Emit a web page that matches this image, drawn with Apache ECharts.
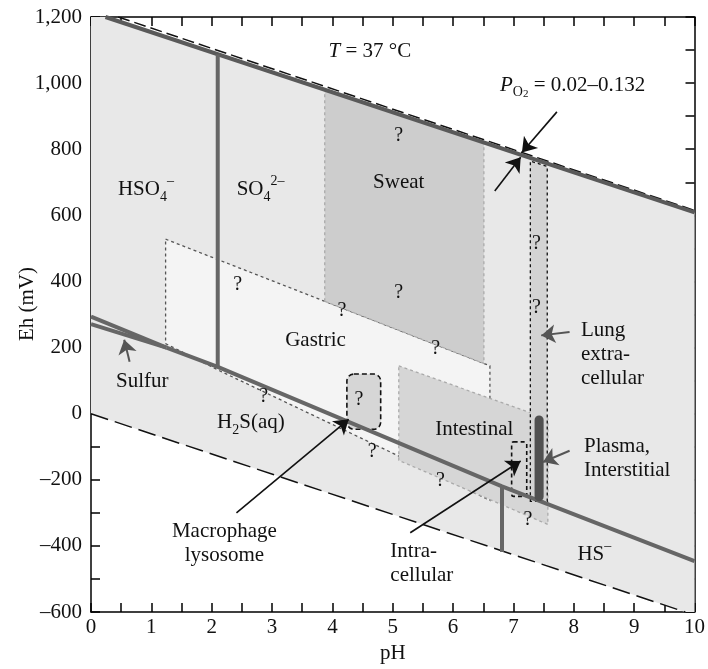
<!DOCTYPE html>
<html>
<head>
<meta charset="utf-8">
<script src="https://cdn.jsdelivr.net/npm/echarts@6/dist/echarts.min.js"></script>
<style>
  html, body { margin: 0; padding: 0; background: #fff; }
  #chart { width: 708px; height: 669px; }
</style>
</head>
<body>
<div id="chart"></div>
<script>
// all points are [pH, Eh (mV)]
const o2Solid = [[0.24, 1200], [10, 609]];
const o2Dash = [[0.45, 1200], [10, 615]];
const h2Dash = [[0, 0], [9.85, -600]];
const waterField = [[0, 0], [0, 1200], [0.24, 1200], [10, 609], [10, -600], [9.85, -600]];

const sulfurUpper = [[0, 294], [1.25, 200]];
const sulfurLower = [[0, 271], [1.25, 200]];
const sulfideLine = [[1.25, 200], [2.1, 142], [6.81, -220], [10, -446]];
const hso4Line = [[2.1, 1087], [2.1, 142]];
const h2sLine = [[6.81, -220], [6.81, -418]];

const gastric = [[1.236, 528], [6.61, 145], [6.61, -262], [5.1, -128], [4.11, -42], [2.13, 130], [1.236, 212]];
const sweat = [[3.873, 340], [3.873, 980], [6.51, 820], [6.51, 152]];
const intestinal = [[5.1, 145], [7.57, -16], [7.57, -335], [5.1, -141]];
const lung = [[7.28, -265], [7.28, 764], [7.56, 748], [7.56, -265]];

// boxes: [pHmin, pHmax, Ehmin, Ehmax]
const macrophageBox = [4.24, 4.8, -47, 120];
const intracellBox = [6.97, 7.22, -250, -85];
const plasmaBar = [7.35, 7.5, -265, -5];

// arrows: [tail, tip]
const blackArrows = [
  [[7.72, 913], [7.14, 790]],
  [[6.69, 674], [7.12, 776]],
  [[2.41, -300], [4.27, -17]],
  [[5.29, -360], [7.12, -143]]
];
const grayArrows = [
  [[0.64, 157], [0.55, 224]],
  [[7.93, 247], [7.46, 237]],
  [[7.93, -112], [7.49, -146]]
];

const labels = [
  [4.62, 1096, 'center', '{i|T}{t| = 37 °C}'],
  [7.98, 994, 'center', '{i|P}{so|O}{s2|2}{t| = 0.02–0.132}'],
  [0.91, 679, 'center', '{t|HSO}{sb|4}{sp|–}'],
  [2.81, 679, 'center', '{t|SO}{sb|4}{sp|2–}'],
  [5.1, 699, 'center', 'Sweat'],
  [3.72, 222, 'center', 'Gastric'],
  [0.85, 97, 'center', 'Sulfur'],
  [2.65, -27, 'center', '{t|H}{sb|2}{t|S(aq)}'],
  [6.35, -47, 'center', 'Intestinal'],
  [8.12, 179, 'left', 'Lung\nextra-\ncellular'],
  [8.17, -134, 'left', 'Plasma,\nInterstitial'],
  [2.21, -392, 'center', 'Macrophage\nlysosome'],
  [4.96, -452, 'left', 'Intra-\ncellular'],
  [8.34, -425, 'center', '{t|HS}{sp|–}']
];
const questionMarks = [
  [5.1, 841], [5.1, 366], [2.43, 391], [4.16, 311], [5.71, 197], [2.86, 52],
  [4.44, 43], [4.66, -116], [5.79, -203], [7.38, 515], [7.38, 321], [7.24, -320]
];

const serif = '"Liberation Serif", "Times New Roman", serif';
const ink = '#111';
const rich = {
  t: { fontFamily: serif, fontSize: 21, lineHeight: 30, verticalAlign: 'middle', fill: ink },
  i: { fontFamily: serif, fontSize: 21, fontStyle: 'italic', lineHeight: 30, verticalAlign: 'middle', fill: ink },
  sb: { fontFamily: serif, fontSize: 14, lineHeight: 14, verticalAlign: 'bottom', fill: ink },
  sp: { fontFamily: serif, fontSize: 14, lineHeight: 14, verticalAlign: 'top', fill: ink },
  so: { fontFamily: serif, fontSize: 14, lineHeight: 14, verticalAlign: 'bottom', padding: [0, 0, 1, 0], fill: ink },
  s2: { fontFamily: serif, fontSize: 11, lineHeight: 11, verticalAlign: 'bottom', fill: ink }
};

function area(points, fill, stroke, dash, z) {
  return {
    type: 'custom', coordinateSystem: 'cartesian2d', silent: true, z: z, clip: true,
    data: [[0, 0]],
    renderItem: function (params, api) {
      return {
        type: 'polygon',
        shape: { points: points.map(function (p) { return api.coord(p); }) },
        style: { fill: fill, stroke: stroke, lineWidth: 1.3, lineDash: dash }
      };
    }
  };
}

function box(b, fill, stroke, dash, r, z) {
  return {
    type: 'custom', coordinateSystem: 'cartesian2d', silent: true, z: z,
    data: [[0, 0]],
    renderItem: function (params, api) {
      const a = api.coord([b[0], b[3]]);
      const c = api.coord([b[1], b[2]]);
      return {
        type: 'rect',
        shape: { x: a[0], y: a[1], width: c[0] - a[0], height: c[1] - a[1], r: r },
        style: { fill: fill, stroke: stroke, lineWidth: 1.6, lineDash: dash }
      };
    }
  };
}

function line(data, color, width, type, z) {
  return {
    type: 'line', data: data, symbol: 'none', silent: true, z: z,
    lineStyle: { color: color, width: width, type: type, cap: 'butt' }
  };
}

function arrows(list, color, width, z) {
  return {
    type: 'lines', coordinateSystem: 'cartesian2d', silent: true, z: z,
    symbol: ['none', 'arrow'], symbolSize: 14,
    lineStyle: { color: color, width: width, opacity: 1, curveness: 0 },
    data: list.map(function (a) { return { coords: a }; })
  };
}

const chart = echarts.init(document.getElementById('chart'));

const axisLine = { onZero: false, lineStyle: { color: '#000', width: 1.5 } };
const axisTick = { inside: true, length: 9, lineStyle: { color: '#000', width: 1.5 } };
const tickFont = { color: ink, fontSize: 21, fontFamily: serif };

chart.setOption({
  animation: false,
  backgroundColor: '#fff',
  grid: { left: 91, right: 11, top: 17, bottom: 47 },
  xAxis: [
    {
      type: 'value', min: 0, max: 10, interval: 0.5, position: 'bottom',
      axisLine: axisLine, axisTick: axisTick, splitLine: { show: false },
      axisLabel: Object.assign({
        margin: 5,
        formatter: function (v) { return Math.abs(v - Math.round(v)) < 1e-6 ? String(Math.round(v)) : ''; }
      }, tickFont),
      name: 'pH', nameLocation: 'middle', nameGap: 22,
      nameTextStyle: tickFont
    },
    {
      type: 'value', min: 0, max: 10, interval: 0.5, position: 'top',
      axisLine: axisLine, axisTick: axisTick, splitLine: { show: false }, axisLabel: { show: false }
    }
  ],
  yAxis: [
    {
      type: 'value', min: -600, max: 1200, interval: 100, position: 'left',
      axisLine: axisLine, axisTick: axisTick, splitLine: { show: false },
      axisLabel: Object.assign({
        margin: 9,
        formatter: function (v) {
          if (v % 200 !== 0) return '';
          return (v < 0 ? '–' : '') + Math.abs(v).toLocaleString('en-US');
        }
      }, tickFont)
    },
    {
      type: 'value', min: -600, max: 1200, interval: 100, position: 'right',
      axisLine: axisLine, axisTick: axisTick, splitLine: { show: false }, axisLabel: { show: false }
    }
  ],
  graphic: [{
    type: 'text', x: 27, y: 304, rotation: Math.PI / 2,
    style: { text: 'Eh (mV)', font: '21px ' + serif, fill: ink, align: 'center', verticalAlign: 'middle' }
  }],
  series: [
    area(waterField, '#e8e8e8', null, null, 1),
    area(gastric, '#f4f4f4', '#555', [3, 3], 2),
    area(sweat, '#cdcdcd', '#aaa', [3, 3], 3),
    area(intestinal, '#d6d6d6', '#aaa', [3, 3], 4),
    area(lung, '#d3d3d3', '#111', [3, 3], 5),
    box(macrophageBox, '#d6d6d6', '#111', [5, 3], 7, 6),
    box(intracellBox, 'rgba(0,0,0,0)', '#111', [4, 3], 2, 6),
    line(o2Dash, '#111', 1.5, [12, 5], 7),
    line(o2Solid, '#5a5a5a', 4, 'solid', 8),
    line(h2Dash, '#111', 1.5, [18, 7], 7),
    line(sulfurUpper, '#666', 4, 'solid', 8),
    line(sulfurLower, '#666', 4, 'solid', 8),
    line(sulfideLine, '#666', 4, 'solid', 8),
    line(hso4Line, '#666', 4, 'solid', 8),
    line(h2sLine, '#666', 4, 'solid', 8),
    box(plasmaBar, '#505050', null, null, 5, 9),
    arrows(blackArrows, '#111', 1.6, 10),
    arrows(grayArrows, '#555', 2, 10),
    {
      type: 'custom', coordinateSystem: 'cartesian2d', silent: true, z: 11, clip: false,
      data: labels.map(function (l) { return [l[0], l[1]]; }),
      renderItem: function (params, api) {
        const l = labels[params.dataIndex];
        const p = api.coord([api.value(0), api.value(1)]);
        const isRich = l[3].indexOf('{') === 0;
        return {
          type: 'text', x: p[0], y: p[1],
          style: {
            text: l[3], fill: ink, font: '21px ' + serif, lineHeight: 24,
            align: l[2], verticalAlign: 'middle', rich: isRich ? rich : undefined
          }
        };
      }
    },
    {
      type: 'custom', coordinateSystem: 'cartesian2d', silent: true, z: 11, clip: false,
      data: questionMarks,
      renderItem: function (params, api) {
        const p = api.coord([api.value(0), api.value(1)]);
        return {
          type: 'text', x: p[0], y: p[1],
          style: { text: '?', fill: ink, font: '20px ' + serif, align: 'center', verticalAlign: 'middle' }
        };
      }
    }
  ]
});
</script>
</body>
</html>
